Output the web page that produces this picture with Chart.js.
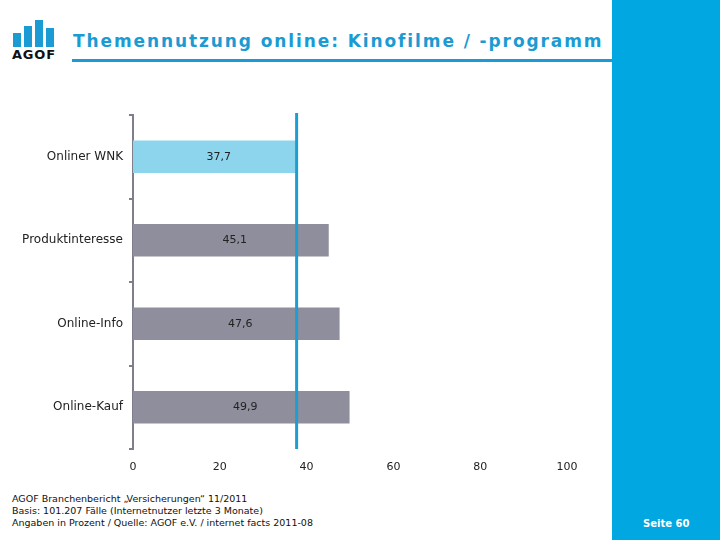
<!DOCTYPE html>
<html><head><meta charset="utf-8">
<script src="https://cdn.jsdelivr.net/npm/chart.js@4"></script>
<style>
html,body{margin:0;padding:0;background:#fff;width:720px;height:540px;overflow:hidden;font-family:"DejaVu Sans",Verdana,sans-serif;}
#side{position:absolute;left:612px;top:0;width:108px;height:540px;background:#00a7e1;}
#seite{position:absolute;left:643px;top:518px;color:#fff;font:bold 10px "DejaVu Sans",sans-serif;}
#title{position:absolute;left:73px;top:31px;color:#1a9bd3;font:bold 17px "DejaVu Sans",sans-serif;letter-spacing:1.9px;white-space:nowrap;}
#rule{position:absolute;left:72px;top:59px;width:540px;height:3px;background:#1a9bd3;}
#logo{position:absolute;left:13px;top:18px;width:46px;height:29px;}
#logo div{position:absolute;bottom:0;width:8px;background:#1a9bd3;}
#agof{position:absolute;left:12px;top:47px;font:bold 13px "DejaVu Sans",sans-serif;color:#111;letter-spacing:0.8px;}
#foot{position:absolute;left:12px;top:493px;font:9.5px "DejaVu Sans",sans-serif;color:#111;line-height:12px;}
#wrap{position:absolute;left:0;top:100px;width:600px;height:380px;}
</style></head><body>
<div id="side"></div><div id="seite">Seite 60</div>
<div id="logo"><div style="left:0;height:14px"></div><div style="left:11px;height:21px"></div><div style="left:22px;height:27px"></div><div style="left:33px;height:19px"></div></div>
<div id="agof">AGOF</div>
<div id="title">Themennutzung online: Kinofilme / -programm</div>
<div id="rule"></div>
<div id="wrap"><canvas id="c"></canvas></div>
<div id="foot">AGOF Branchenbericht „Versicherungen“ 11/2011<br>Basis: 101.207 Fälle (Internetnutzer letzte 3 Monate)<br>Angaben in Prozent / Quelle: AGOF e.V. / internet facts 2011-08</div>
<script>
const categories = ["Onliner WNK", "Produktinteresse", "Online-Info", "Online-Kauf"];
const values = [37.7, 45.1, 47.6, 49.9];
const barColors = ["#8dd5ed", "#8e8e9c", "#8e8e9c", "#8e8e9c"];
const referenceValue = 37.7;
const xTicks = [0, 20, 40, 60, 80, 100];

const overlay = {
  id: 'overlay',
  afterDatasetsDraw(chart) {
    const ctx = chart.ctx, xs = chart.scales.x, meta = chart.getDatasetMeta(0);
    ctx.save();
    ctx.font = '11px "DejaVu Sans", sans-serif';
    ctx.fillStyle = '#222';
    ctx.textAlign = 'center'; ctx.textBaseline = 'middle';
    meta.data.forEach((bar, i) => {
      const cx = (xs.getPixelForValue(0) + bar.x) / 2 + 4;
      ctx.fillText(values[i].toFixed(1).replace('.', ','), cx, bar.y);
    });
    const rx = xs.getPixelForValue(referenceValue);
    ctx.strokeStyle = '#1c9ed2'; ctx.lineWidth = 3;
    ctx.beginPath(); ctx.moveTo(rx, chart.chartArea.top - 2); ctx.lineTo(rx, chart.chartArea.bottom); ctx.stroke();
    ctx.restore();
  }
};

new Chart(document.getElementById('c'), {
  type: 'bar',
  data: { labels: categories, datasets: [{ data: values, backgroundColor: barColors, categoryPercentage: 0.39, barPercentage: 1.0 }] },
  options: {
    indexAxis: 'y', responsive: true, maintainAspectRatio: false, animation: false,
    layout: { padding: { top: 15, right: 33, bottom: 0, left: 0 } },
    plugins: { legend: { display: false }, tooltip: { enabled: false } },
    scales: {
      x: { min: 0, max: 100, afterBuildTicks: s => { s.ticks = xTicks.map(v => ({ value: v })); },
        afterFit: s => { s.height = 31; },
        grid: { display: false }, border: { display: false },
        ticks: { color: '#222', font: { size: 11, family: '"DejaVu Sans", sans-serif' }, padding: 4 } },
      y: { afterFit: s => { s.width = 133; },
        grid: { offset: true, drawOnChartArea: false, tickLength: 4, color: '#7f7f8c', lineWidth: 2 },
        border: { display: true, color: '#7f7f8c', width: 2 },
        ticks: { color: '#222', font: { size: 12, family: '"DejaVu Sans", sans-serif' }, padding: 6 } }
    }
  },
  plugins: [overlay]
});
</script>
</body></html>
